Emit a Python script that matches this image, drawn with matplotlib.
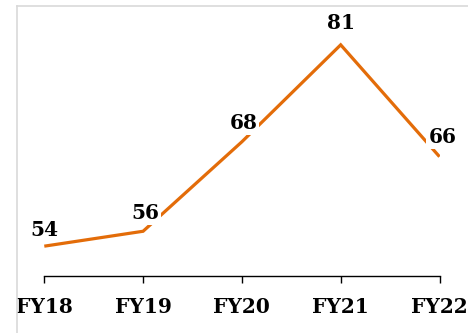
import matplotlib
matplotlib.use("Agg")
import matplotlib.pyplot as plt
from matplotlib.lines import Line2D

years = ["FY18", "FY19", "FY20", "FY21", "FY22"]
values = [54, 56, 68, 81, 66]

W, H, DPI = 468, 333, 100
fig = plt.figure(figsize=(W / DPI, H / DPI), dpi=DPI)

# light grey chart-area frame (left and top edges)
frame_x, frame_y = 17 / W, 1 - 6 / H
for xs, ys in [([frame_x, frame_x], [0, frame_y]), ([frame_x, 1.01], [frame_y, frame_y])]:
    fig.lines.append(Line2D(xs, ys, transform=fig.transFigure,
                            color="#d9d9d9", linewidth=1.2, zorder=0))

left, right = 44.3 / W, 439.5 / W
bottom, top = (H - 276) / H, (H - 15) / H
ax = fig.add_axes([left, bottom, right - left, top - bottom])
ax.patch.set_alpha(0)

x = list(range(len(years)))
ax.plot(x, values, color="#E36C09", linewidth=2.3, solid_joinstyle="miter",
        solid_capstyle="butt", zorder=2)

ax.set_xlim(0, len(years) - 1)
ax.set_ylim(50, 85)

for s in ["top", "right", "left"]:
    ax.spines[s].set_visible(False)
ax.spines["bottom"].set_linewidth(1.0)
ax.spines["bottom"].set_color("black")
ax.set_yticks([])
ax.set_xticks(x)
font = dict(fontfamily="DejaVu Serif", fontweight="bold", fontsize=14.5)
ax.set_xticklabels(years, **font)
ax.tick_params(axis="x", direction="out", length=5, width=1.0, pad=10, colors="black")

offsets = [(0, 12), (1.5, 13), (1, 13.5), (0, 16), (2, 14)]
for xi, v, off in zip(x, values, offsets):
    ax.annotate(str(v), (xi, v), xytext=off, textcoords="offset points",
                ha="center", va="center", annotation_clip=False, zorder=3,
                bbox=dict(boxstyle="square,pad=0.1", facecolor="white", edgecolor="none"),
                **font)

fig.savefig("out.png", dpi=DPI)
